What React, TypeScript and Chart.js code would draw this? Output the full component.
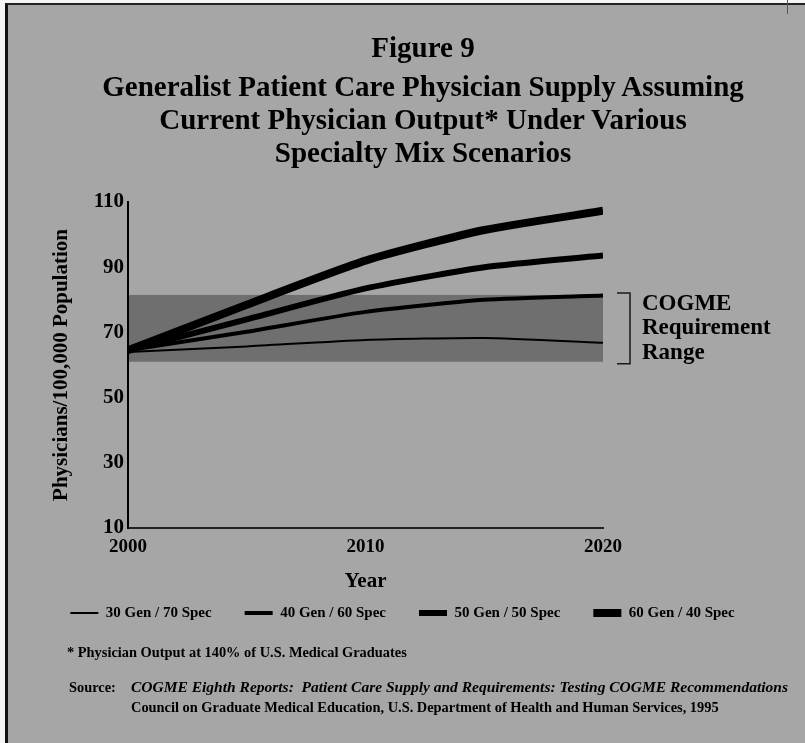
import React, { useEffect, useRef } from 'react';
import { Chart, registerables } from 'chart.js';

Chart.register(...registerables);

// ---- data ----
const years = [2000, 2005, 2010, 2015, 2020];
const gen30 = [64.0, 65.7, 67.7, 68.3, 66.8];
const gen40 = [64.5, 70.2, 76.3, 80.0, 81.3];
const gen50 = [64.5, 74.0, 83.5, 90.0, 93.6];
const gen60 = [64.5, 78.5, 92.0, 101.4, 107.3];
const seriesLabels = ['30 Gen / 70 Spec', '40 Gen / 60 Spec', '50 Gen / 50 Spec', '60 Gen / 40 Spec'];
const seriesValues = [gen30, gen40, gen50, gen60];
const requirementRange = [61, 81.5];
const xTickValues = [2000, 2010, 2020];
const yTickValues = [10, 30, 50, 70, 90, 110];
const rangeLabelLines = ['COGME', 'Requirement', 'Range'];
const titleLines = [
  'Figure 9',
  'Generalist Patient Care Physician Supply Assuming',
  'Current Physician Output* Under Various',
  'Specialty Mix Scenarios',
];
const footnote = '* Physician Output at 140% of U.S. Medical Graduates';
const sourceLabel = 'Source:';
const sourceLine1 = 'COGME Eighth Reports:  Patient Care Supply and Requirements: Testing COGME Recommendations';
const sourceLine2 = 'Council on Graduate Medical Education, U.S. Department of Health and Human Services, 1995';

// ---- styles ----
const seriesWidths = [2, 4, 6, 8];
const FONT = 'Liberation Serif';
const PAGE_BG = '#a6a6a6';
const BAND_BG = '#6f6f6f';

const bandPlugin = {
  id: 'cogmeBand',
  beforeDraw(chart: any) {
    const { ctx, chartArea, scales } = chart;
    const y = scales.y;
    const top = y.getPixelForValue(requirementRange[1]);
    const bot = y.getPixelForValue(requirementRange[0]);
    ctx.save();
    ctx.fillStyle = BAND_BG;
    ctx.fillRect(chartArea.left, top, chartArea.right - chartArea.left, bot - top);
    ctx.restore();
  },
  afterDraw(chart: any) {
    const { ctx, chartArea, scales } = chart;
    const y = scales.y;
    const top = y.getPixelForValue(requirementRange[1]);
    const bot = y.getPixelForValue(requirementRange[0]);
    const bx = chartArea.right + 27;
    ctx.save();
    ctx.strokeStyle = '#1a1a1a';
    ctx.lineWidth = 1.5;
    ctx.beginPath();
    ctx.moveTo(chartArea.right + 14, top - 2);
    ctx.lineTo(bx, top - 2);
    ctx.lineTo(bx, bot + 2);
    ctx.lineTo(chartArea.right + 14, bot + 2);
    ctx.stroke();
    ctx.fillStyle = '#000';
    ctx.font = `bold 23px "${FONT}"`;
    ctx.textAlign = 'left';
    ctx.textBaseline = 'middle';
    rangeLabelLines.forEach((t, i) => {
      ctx.fillText(t, chartArea.right + 39, top + 9 + i * 24.5);
    });
    ctx.restore();
  },
};

export default function App() {
  const canvasRef = useRef<HTMLCanvasElement | null>(null);

  useEffect(() => {
    const canvas = canvasRef.current;
    if (!canvas) return;
    Chart.defaults.font.family = FONT;
    const chart = new Chart(canvas, {
      type: 'line',
      data: {
        datasets: seriesLabels.map((label, i) => ({
          label,
          data: years.map((x, j) => ({ x, y: seriesValues[i][j] })),
          borderColor: '#000',
          backgroundColor: '#000',
          borderWidth: seriesWidths[i],
          pointRadius: 0,
          tension: 0.2,
          fill: false,
        })),
      },
      options: {
        responsive: false,
        animation: false,
        layout: { padding: { top: 202, bottom: 112.5, left: 0, right: 0 } },
        plugins: {
          tooltip: { enabled: false },
          legend: {
            display: true,
            position: 'bottom',
            labels: {
              usePointStyle: true,
              pointStyle: 'line',
              pointStyleWidth: 28,
              padding: 33,
              color: '#000',
              font: { family: FONT, size: 15, weight: 'bold' },
            },
          },
        },
        scales: {
          x: {
            type: 'linear',
            min: 2000,
            max: 2020,
            afterBuildTicks: (s: any) => {
              s.ticks = xTickValues.map((v) => ({ value: v }));
            },
            afterFit: (s: any) => {
              s.height = 44.5;
            },
            ticks: {
              callback: (v: any) => String(v),
              color: '#000',
              font: { family: FONT, size: 19, weight: 'bold' },
              padding: 8,
              maxRotation: 0,
              autoSkip: false,
            },
            grid: { display: false, drawTicks: false },
            border: { display: true, color: '#222', width: 2 },
            title: {
              display: true,
              text: 'Year',
              color: '#000',
              font: { family: FONT, size: 21, weight: 'bold' },
              padding: { top: 0, bottom: -22 },
            },
          },
          y: {
            type: 'linear',
            position: 'left',
            min: 10,
            max: 110,
            afterBuildTicks: (s: any) => {
              s.ticks = yTickValues.map((v) => ({ value: v }));
            },
            afterFit: (s: any) => {
              s.width = 128;
            },
            ticks: {
              color: '#000',
              font: { family: FONT, size: 21, weight: 'bold' },
              padding: 4,
            },
            grid: { display: false, drawTicks: false },
            border: { display: true, color: '#000', width: 2 },
            title: {
              display: true,
              text: 'Physicians/100,000 Population',
              color: '#000',
              font: { family: FONT, size: 21, weight: 'bold' },
              padding: { top: 49, bottom: 0 },
            },
          },
          y2: {
            type: 'linear',
            position: 'right',
            display: true,
            grid: { display: false, drawTicks: false },
            border: { display: false },
            ticks: { display: false },
            afterFit: (s: any) => {
              s.width = 202;
            },
          },
        },
      } as any,
      plugins: [bandPlugin],
    });
    return () => chart.destroy();
  }, []);

  const serif = `"${FONT}", serif`;
  const titleCenters = [47, 86, 119, 152];

  return (
    <div
      style={{
        position: 'absolute',
        left: 0,
        top: 0,
        width: 805,
        height: 743,
        background: '#f4f4f4',
        overflow: 'hidden',
        fontFamily: serif,
      }}
    >
      <div
        style={{
          position: 'absolute',
          left: 5,
          top: 3,
          width: 800,
          height: 740,
          background: PAGE_BG,
          borderLeft: '3px solid #111',
          borderTop: '2px solid #222',
          boxSizing: 'border-box',
        }}
      />
      <div style={{ position: 'absolute', left: 787, top: 0, width: 1, height: 14, background: '#555' }} />
      <canvas
        ref={canvasRef}
        width={805}
        height={743}
        style={{ position: 'absolute', left: 0, top: 0, width: 805, height: 743 }}
      />
      {titleLines.map((t, i) => (
        <div
          key={i}
          style={{
            position: 'absolute',
            left: 0,
            width: 846,
            top: titleCenters[i] - 17,
            height: 34,
            lineHeight: '34px',
            textAlign: 'center',
            whiteSpace: 'nowrap',
            fontWeight: 'bold',
            fontSize: 29,
            color: '#000',
          }}
        >
          {t}
        </div>
      ))}
      <div
        style={{
          position: 'absolute',
          left: 67,
          top: 652 - 10,
          height: 20,
          lineHeight: '20px',
          whiteSpace: 'nowrap',
          fontWeight: 'bold',
          fontSize: 14.4,
          color: '#000',
        }}
      >
        {footnote}
      </div>
      <div
        style={{
          position: 'absolute',
          left: 69,
          top: 687 - 10,
          height: 20,
          lineHeight: '20px',
          whiteSpace: 'nowrap',
          fontWeight: 'bold',
          fontSize: 14.4,
          color: '#000',
        }}
      >
        {sourceLabel}
      </div>
      <div
        style={{
          position: 'absolute',
          left: 131,
          top: 687 - 10,
          height: 20,
          lineHeight: '20px',
          whiteSpace: 'pre',
          fontWeight: 'bold',
          fontStyle: 'italic',
          fontSize: 15.5,
          color: '#000',
        }}
      >
        {sourceLine1}
      </div>
      <div
        style={{
          position: 'absolute',
          left: 131,
          top: 707 - 10,
          height: 20,
          lineHeight: '20px',
          whiteSpace: 'nowrap',
          fontWeight: 'bold',
          fontSize: 14.4,
          color: '#000',
        }}
      >
        {sourceLine2}
      </div>
    </div>
  );
}
